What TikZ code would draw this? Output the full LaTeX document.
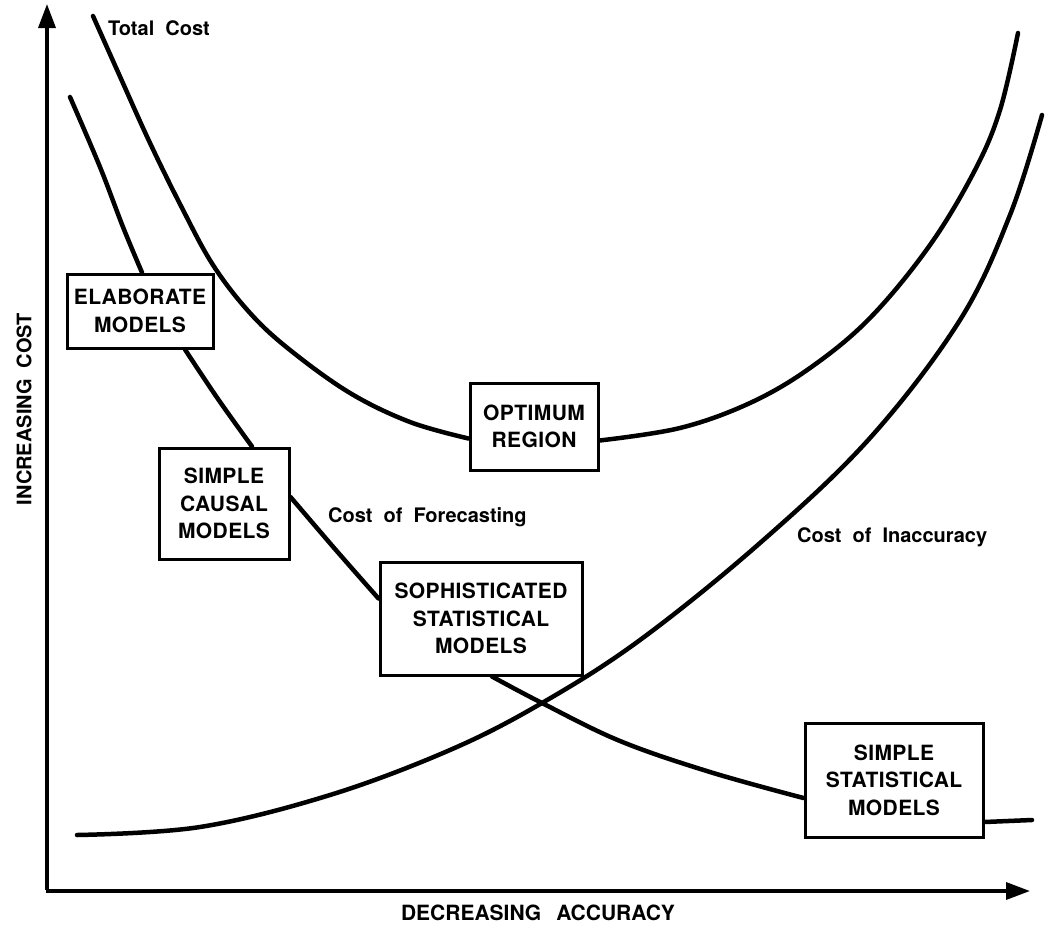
\documentclass[tikz,border=0pt]{standalone}
\usepackage{fontspec}
\setmainfont{TeX Gyre Heros}
\usetikzlibrary{calc,arrows.meta}
\newcommand{\wsp}{\hspace{11pt}}
\begin{document}
\begin{tikzpicture}[x=1pt,y=-1pt,
  box/.style={draw, line width=3pt, align=center, inner sep=0pt,
    font=\fontsize{21}{27.5}\selectfont\bfseries\addfontfeature{LetterSpace=2}},
  lbl/.style={inner sep=0pt, font=\fontsize{20}{24}\selectfont\bfseries},
  curve/.style={line width=4.5pt, line cap=round, line join=round},
  axis/.style={line width=3.5pt, -{Triangle[length=24pt,width=17pt]}},
]
\useasboundingbox (0,0) rectangle (1045,930);

% axes
\coordinate (origin) at (47,891);
\coordinate (ytip) at (47,4);
\coordinate (xtip) at (1030,891);
\draw[axis] ([yshift=1.5pt]origin) -- (ytip);
\draw[axis] ([xshift=-1.5pt]origin) -- (xtip);
\node[lbl, rotate=90] (ylab) at (24,409) {INCREASING\wsp COST};
\node[lbl, font=\fontsize{21}{24}\selectfont\bfseries] (xlab) at (538,913) {DECREASING\hspace{15pt}ACCURACY};

% boxes
\node[box, minimum width=146, minimum height=74] (elab) at (140,311) {ELABORATE\\MODELS};
\node[box, minimum width=130, minimum height=111] (causal) at (224,503.5) {SIMPLE\\CAUSAL\\MODELS};
\node[box, minimum width=128, minimum height=87] (opt) at (534,426.5) {OPTIMUM\\REGION};
\node[box, minimum width=202, minimum height=113] (soph) at (481,618.5) {SOPHISTICATED\\STATISTICAL\\MODELS};
\node[box, minimum width=178, minimum height=114] (simp) at (894,780) {SIMPLE\\STATISTICAL\\MODELS};

% labels
\node[lbl, anchor=base west] (ltc) at (108,35) {Total\wsp Cost};
\node[lbl, anchor=base west] (lcf) at (328,522) {Cost\wsp of\wsp Forecasting};
\node[lbl, anchor=base west] (lci) at (797,542) {Cost\wsp of\wsp Inaccuracy};

% curve end points
\coordinate (tcA) at (93,16);
\coordinate (tcB) at (1018,33);
\coordinate (cfA) at (70,97);
\coordinate (cfB) at (1032,820);
\coordinate (ciA) at (77,835);
\coordinate (ciB) at (1042,115);
\coordinate (e1) at ($(elab.north)+(2,0)$);
\coordinate (e2) at ($(elab.south)+(45,0)$);
\coordinate (c1) at ($(causal.north)+(28,0)$);
\coordinate (c2) at ($(causal.east)+(0,-6.5)$);
\coordinate (s1) at ($(soph.west)+(0,-20)$);
\coordinate (s2) at ($(soph.south)+(11,0)$);
\coordinate (p1) at ($(simp.west)+(0,18)$);
\coordinate (p2) at ($(simp.east)+(0,42)$);
\coordinate (o1) at ($(opt.west)+(0,12)$);
\coordinate (o2) at ($(opt.east)+(0,14)$);

% Total cost
\draw[curve] plot[smooth, tension=0.6] coordinates {(tcA) (122,81) (150,143) (181,206) (213,265) (250,313) (290,350) (350,393) (410,422) (o1)};
\draw[curve] plot[smooth, tension=0.6] coordinates {(o2) (680,428) (750,403) (810,368) (870,318) (930,245) (975,170) (1000,110) (tcB)};

% Cost of forecasting
\draw[curve] plot[smooth, tension=0.6] coordinates {(cfA) (100,167) (123,227) (e1)};
\draw[curve] plot[smooth, tension=0.6] coordinates {(e2) (218,399) (c1)};
\draw[curve] plot[smooth, tension=0.6] coordinates {(c2) (335,549) (s1)};
\draw[curve] plot[smooth, tension=0.6] coordinates {(s2) (542,703) (620,741) (710,772) (p1)};
\draw[curve] (p2) -- (cfB);

% Cost of inaccuracy
\draw[curve] plot[smooth, tension=0.6] coordinates {(ciA) (200,827) (330,795) (450,750) (542,703) (640,640) (760,543) (870,438) (960,320) (1010,215) (ciB)};
\end{tikzpicture}
\end{document}
